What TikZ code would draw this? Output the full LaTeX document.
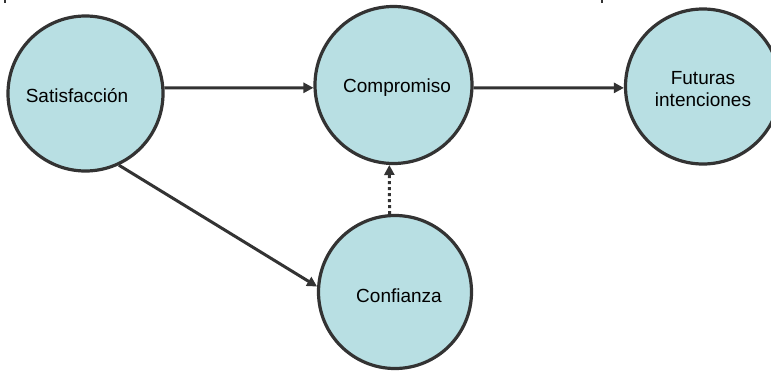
\documentclass[tikz,border=0pt]{standalone}
\usepackage{fontspec}
\setmainfont{Liberation Sans}
\usetikzlibrary{arrows.meta}
\definecolor{bubble}{RGB}{184,223,227}
\definecolor{ink}{RGB}{51,51,51}
\tikzset{
  bubble/.style={circle, draw=ink, fill=bubble, line width=3.2pt, inner sep=0pt},
  lbl/.style={font=\fontsize{19}{22}\selectfont, text=black, align=center, inner sep=0pt},
  arr/.style={draw=ink, line width=3pt, -{Triangle[length=10pt,width=10pt]}},
  dotarr/.style={arr, dash pattern=on 3pt off 3pt},
}
\begin{document}
\begin{tikzpicture}[x=1pt,y=-1pt]
\useasboundingbox (0,0) rectangle (771,372);
\node[bubble, minimum size=155pt] (sat) at (85.5,93.5) {};
\node[bubble, minimum size=157pt] (comp) at (393.5,85) {};
\node[bubble, minimum size=155pt] (fut) at (703,86.5) {};
\node[bubble, minimum size=153pt] (conf) at (395,292) {};
\node[lbl] (satT) at (77,96) {Satisfacción};
\node[lbl] (compT) at (397,88) {Compromiso};
\node[lbl] (futT) at (703,89) {Futuras\\intenciones};
\node[lbl] (confT) at (399,296) {Confianza};
\draw[arr] (sat.4) -- (comp.182);
\draw[arr] (comp.-2) -- (fut.181);
\draw[arr] (sat.-65) -- (conf.176);
\draw[dotarr] (conf.94) -- (comp.267);
\draw[ink, line width=1.5pt] (5,0) -- (5,3);
\draw[ink, line width=1.5pt] (602,0) -- (602,3);
\end{tikzpicture}
\end{document}
